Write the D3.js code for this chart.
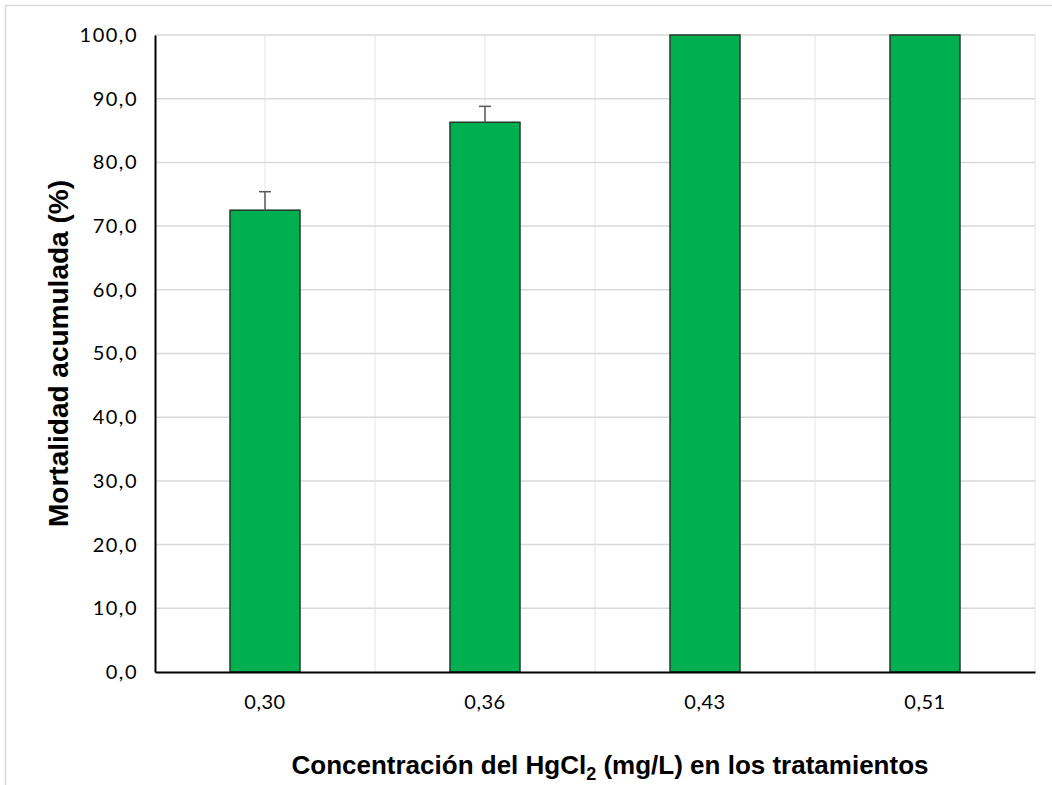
<!DOCTYPE html>
<html>
<head>
<meta charset="utf-8">
<script src="https://cdn.jsdelivr.net/npm/d3@7"></script>
<style>
  html, body { margin: 0; padding: 0; background: #fff; }
  svg { display: block; }
</style>
</head>
<body>
<svg id="chart" width="1052" height="785"></svg>
<script>
// Mortalidad acumulada por concentración de HgCl2
const categories = ["0,30", "0,36", "0,43", "0,51"];
const mortality = [72.5, 86.3, 100.0, 100.0];
const errorUp = [2.9, 2.5, 0, 0];
const yTicks = [0, 10, 20, 30, 40, 50, 60, 70, 80, 90, 100];

const svg = d3.select("#chart");
const W = 1052, H = 785;
const m = { left: 155, right: 1035, top: 35, bottom: 672 };

// outer chart border
svg.append("rect")
  .attr("x", 5.5).attr("y", 5.5)
  .attr("width", W + 10).attr("height", H + 10)
  .attr("fill", "#fff").attr("stroke", "#d9d9d9").attr("stroke-width", 1.5);

const x = d3.scaleBand().domain(categories).range([m.left, m.right]).paddingInner(0).paddingOuter(0);
const y = d3.scaleLinear().domain([0, 100]).range([m.bottom, m.top]);

// vertical gridlines: category centres and band boundaries
const vLines = [];
categories.forEach(c => {
  vLines.push(x(c) + x.bandwidth() / 2);
  vLines.push(x(c) + x.bandwidth());
});
svg.append("g").selectAll("line").data(vLines).join("line")
  .attr("x1", d => d).attr("x2", d => d)
  .attr("y1", m.top).attr("y2", m.bottom)
  .attr("stroke", "#ececec").attr("stroke-width", 1.5);

// horizontal gridlines
svg.append("g").selectAll("line").data(yTicks.filter(t => t > 0)).join("line")
  .attr("x1", m.left).attr("x2", m.right)
  .attr("y1", d => y(d)).attr("y2", d => y(d))
  .attr("stroke", "#d9d9d9").attr("stroke-width", 1.5);

// bars
const barW = 70;
svg.append("g").selectAll("rect").data(categories).join("rect")
  .attr("x", c => x(c) + x.bandwidth() / 2 - barW / 2)
  .attr("y", (c, i) => y(mortality[i]))
  .attr("width", barW)
  .attr("height", (c, i) => y(0) - y(mortality[i]))
  .attr("fill", "#00b050")
  .attr("stroke", "#1f3a2a").attr("stroke-width", 1.5);

// error bars (positive direction)
const eb = svg.append("g");
categories.forEach((c, i) => {
  if (errorUp[i] <= 0) return;
  const cx = x(c) + x.bandwidth() / 2;
  const y0 = y(mortality[i]), y1 = y(mortality[i] + errorUp[i]);
  eb.append("line").attr("x1", cx).attr("x2", cx).attr("y1", y0).attr("y2", y1)
    .attr("stroke", "#595959").attr("stroke-width", 1.5);
  eb.append("line").attr("x1", cx - 6).attr("x2", cx + 6).attr("y1", y1).attr("y2", y1)
    .attr("stroke", "#595959").attr("stroke-width", 1.5);
});

// axes
const fmt = d => d3.format(".1f")(d).replace(".", ",");
const tickFont = "Lato, 'Open Sans', sans-serif";
const yAxis = svg.append("g").attr("transform", `translate(${m.left},0)`)
  .call(d3.axisLeft(y).tickValues(yTicks).tickFormat(fmt).tickSize(0).tickPadding(17));
yAxis.select(".domain").attr("stroke", "#000").attr("stroke-width", 2);
yAxis.selectAll("text").attr("font-family", tickFont)
  .attr("font-size", 20).attr("letter-spacing", 1.5).attr("fill", "#000");

const xAxis = svg.append("g").attr("transform", `translate(0,${m.bottom})`)
  .call(d3.axisBottom(x).tickSize(0).tickPadding(23));
xAxis.select(".domain").attr("stroke", "#000").attr("stroke-width", 2);
xAxis.selectAll("text").attr("font-family", tickFont)
  .attr("font-size", 20).attr("letter-spacing", 0.5).attr("fill", "#000");

// axis titles
const titleFont = "'Liberation Sans', Arial, sans-serif";
svg.append("text")
  .attr("transform", `translate(68,${(m.top + m.bottom) / 2}) rotate(-90)`)
  .attr("text-anchor", "middle")
  .attr("font-family", titleFont)
  .attr("font-weight", "bold").attr("font-size", 28)
  .text("Mortalidad acumulada (%)");

const xt = svg.append("text")
  .attr("x", 610).attr("y", 774)
  .attr("text-anchor", "middle")
  .attr("font-family", titleFont)
  .attr("font-weight", "bold").attr("font-size", 26);
xt.append("tspan").text("Concentración del HgCl");
xt.append("tspan").attr("font-size", 18).attr("dy", 6).text("2");
xt.append("tspan").attr("dy", -6).text(" (mg/L) en los tratamientos");
</script>
</body>
</html>
